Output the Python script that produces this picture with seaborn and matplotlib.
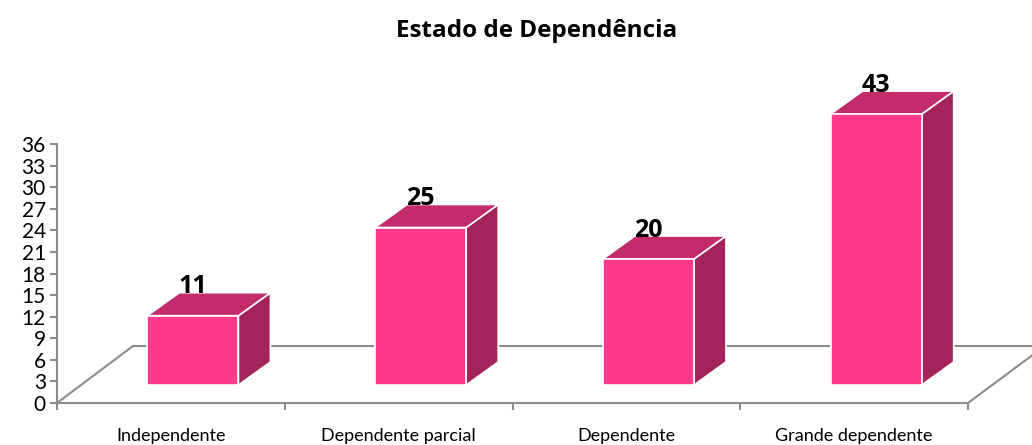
import numpy as np
import matplotlib
matplotlib.use("Agg")
import matplotlib.pyplot as plt
import seaborn as sns
from matplotlib.patches import Polygon
from matplotlib.transforms import IdentityTransform

# data
categorias = ["Independente", "Dependente parcial", "Dependente", "Grande dependente"]
valores = [11, 25, 20, 43]
y_ticks = list(range(0, 37, 3))
titulo = "Estado de Dependência"

W, H = 1032, 445
front_col = "#FF3A8A"
side_col = "#A2245A"
top_col = "#C22B6C"
grid_col = "#8C8C8C"
depth = (32, 23)  # pixel offset of the bar depth

sns.set_style("white")
plt.rcParams["font.family"] = ["Lato", "DejaVu Sans"]
plt.rcParams["text.color"] = "black"
plt.rcParams["xtick.labelcolor"] = "black"
plt.rcParams["ytick.labelcolor"] = "black"

fig = plt.figure(figsize=(W / 100, H / 100), dpi=100)

# visible axis with the value scale
ax = fig.add_axes([57 / W, (H - 403) / H, 911 / W, 259 / H])
ax.set_xlim(-0.5, 3.5)
ax.set_ylim(0, 36)
ax.set_yticks(y_ticks)
ax.set_xticks(np.arange(-0.5, 4, 1))
ax.set_xticklabels([])
ax.set_xticks(range(len(categorias)), minor=True)
ax.set_xticklabels(categorias, minor=True)
ax.tick_params(axis="y", direction="out", length=5, color=grid_col, width=1.5,
               labelsize=15, pad=3, left=True)
ax.tick_params(axis="x", which="major", direction="out", length=5, color=grid_col,
               width=1.5, bottom=True)
ax.tick_params(axis="x", which="minor", length=0, labelsize=13, pad=18)
for s in ["top", "right"]:
    ax.spines[s].set_visible(False)
for s in ["left", "bottom"]:
    ax.spines[s].set_color(grid_col)
    ax.spines[s].set_linewidth(1.5)
ax.patch.set_alpha(0)

# floor drawn in pixels from axis corners
x0, y0 = ax.transAxes.transform((0, 0))
x1, _ = ax.transAxes.transform((1, 0))
floor = [(x0, y0), (x0 + 76, y0 + 57), (x1 + 70, y0 + 57)]
ax.add_artist(plt.Line2D([p[0] for p in floor], [p[1] for p in floor],
                         color=grid_col, lw=1.5, transform=IdentityTransform(),
                         clip_on=False))
ax.add_artist(plt.Line2D([x1, x1 + 70], [y0, y0 + 52], color=grid_col, lw=1.5,
                         transform=IdentityTransform(), clip_on=False))

# hidden axis holding the bars
ax2 = fig.add_axes([79 / W, (H - 385) / H, 911 / W, 300 / H])
sns.barplot(x=categorias, y=valores, ax=ax2, width=0.4, color=front_col,
            saturation=1, edgecolor="white", linewidth=1.2, zorder=3)
ax2.set_xlim(-0.5, 3.5)
ax2.set_ylim(0, 300 / 6.3)
ax2.axis("off")

dx, dy = depth
for bar in ax2.patches:
    bx, by = bar.get_x(), bar.get_y()
    bw, bh = bar.get_width(), bar.get_height()
    (lx, ly) = ax2.transData.transform((bx, by))
    (rx, ty) = ax2.transData.transform((bx + bw, by + bh))
    side = Polygon([(rx, ly), (rx + dx, ly + dy), (rx + dx, ty + dy), (rx, ty)],
                   closed=True, facecolor=side_col, edgecolor="white", lw=1.2,
                   transform=IdentityTransform(), zorder=2, clip_on=False)
    top = Polygon([(lx, ty), (lx + dx, ty + dy), (rx + dx, ty + dy), (rx, ty)],
                  closed=True, facecolor=top_col, edgecolor="white", lw=1.2,
                  transform=IdentityTransform(), zorder=2, clip_on=False)
    ax2.add_artist(side)
    ax2.add_artist(top)

for i, v in enumerate(valores):
    ax2.annotate(str(v), (i, ax2.patches[i].get_height()), xytext=(0, 29),
                 textcoords="offset pixels", ha="center", va="center",
                 fontsize=18, fontweight="bold", color="black", zorder=5,
                 family=["Open Sans", "DejaVu Sans"], annotation_clip=False)

fig.text(537 / W, 1 - 31 / H, titulo, ha="center", va="center",
         fontsize=17.5, fontweight="bold", color="black",
         family=["Open Sans", "DejaVu Sans"])

fig.savefig("out.png", dpi=100)
